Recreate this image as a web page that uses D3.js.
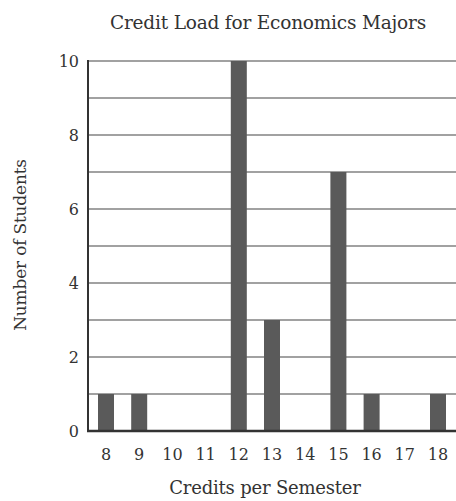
<!DOCTYPE html>
<html><head><meta charset="utf-8">
<script src="https://cdn.jsdelivr.net/npm/d3@7/dist/d3.min.js"></script>
<style>body{margin:0;background:#fff}svg{display:block}</style>
</head><body>
<script>
const credits = [8, 9, 10, 11, 12, 13, 14, 15, 16, 17, 18];
const students = [1, 1, 0, 0, 10, 3, 0, 7, 1, 0, 1];
const yTicks = [0, 2, 4, 6, 8, 10];
const gridLines = [1, 2, 3, 4, 5, 6, 7, 8, 9, 10];
const title = "Credit Load for Economics Majors";
const xTitle = "Credits per Semester";
const yTitle = "Number of Students";

(function () {
const W = 456, H = 501;
const mLeft = 88, mRight = 456, mTop = 61, mBottom = 431;
const font = "'DejaVu Serif', 'Liberation Serif', serif";

const svg = d3.select("body").append("svg").attr("width", W).attr("height", H);
const x = d3.scaleLinear().domain([8, 18]).range([106, 438]);
const y = d3.scaleLinear().domain([0, 10]).range([mBottom, mTop]);
const bw = 16;

svg.append("g").selectAll("line").data(gridLines).join("line")
  .attr("x1", mLeft).attr("x2", mRight)
  .attr("y1", d => y(d)).attr("y2", d => y(d))
  .attr("stroke", "#444").attr("stroke-width", 1.2);

svg.append("g").selectAll("rect").data(credits.map((c, i) => ({c, v: students[i]})).filter(d => d.v > 0)).join("rect")
  .attr("x", d => x(d.c) - bw / 2).attr("width", bw)
  .attr("y", d => y(d.v)).attr("height", d => y(0) - y(d.v))
  .attr("fill", "#5a5a5a");

svg.append("line").attr("x1", mLeft).attr("x2", mLeft).attr("y1", mTop - 1).attr("y2", mBottom + 1)
  .attr("stroke", "#333").attr("stroke-width", 2);
svg.append("line").attr("x1", mLeft - 1).attr("x2", mRight).attr("y1", mBottom).attr("y2", mBottom)
  .attr("stroke", "#333").attr("stroke-width", 2.4);

svg.append("g").selectAll("text").data(yTicks).join("text")
  .attr("x", 79).attr("y", d => y(d) + 6)
  .attr("text-anchor", "end").attr("font-family", font).attr("font-size", 16)
  .attr("fill", "#333").text(d => d);

svg.append("g").selectAll("text").data(credits).join("text")
  .attr("x", d => x(d)).attr("y", 460)
  .attr("text-anchor", "middle").attr("font-family", font).attr("font-size", 16)
  .attr("fill", "#333").text(d => d);

svg.append("text").attr("x", 268).attr("y", 29).attr("text-anchor", "middle")
  .attr("font-family", font).attr("font-size", 18.5).attr("letter-spacing", -0.2).attr("fill", "#333").text(title);
svg.append("text").attr("x", 265).attr("y", 494).attr("text-anchor", "middle")
  .attr("font-family", font).attr("font-size", 18).attr("letter-spacing", -0.2).attr("fill", "#333").text(xTitle);
svg.append("text").attr("transform", "translate(26,245) rotate(-90)").attr("text-anchor", "middle")
  .attr("font-family", font).attr("font-size", 17).attr("letter-spacing", -0.2).attr("fill", "#333").text(yTitle);
})();
</script>
</body></html>
